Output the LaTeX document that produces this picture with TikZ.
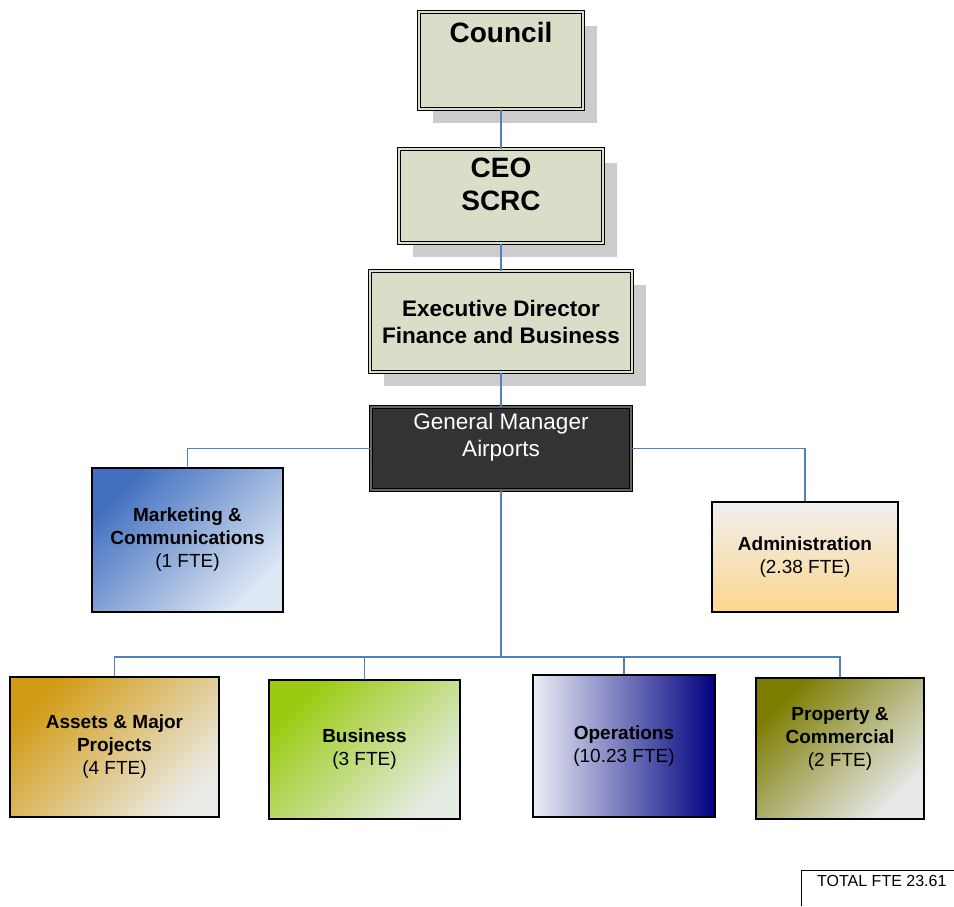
\documentclass[tikz,border=0pt]{standalone}
\usepackage{fontspec}
\setmainfont{Liberation Sans}
\usepackage{tikz}
\usetikzlibrary{shadows}
\definecolor{sage}{RGB}{217,222,201}
\definecolor{shadowGray}{RGB}{204,204,204}
\definecolor{gmGray}{RGB}{51,51,51}
\definecolor{linkBlue}{RGB}{79,129,189}
\definecolor{mcDark}{RGB}{66,112,192}
\definecolor{mcLight}{RGB}{222,232,244}
\definecolor{admTop}{RGB}{240,240,240}
\definecolor{admBottom}{RGB}{252,214,142}
\definecolor{ampDark}{RGB}{210,155,20}
\definecolor{ampLight}{RGB}{234,234,230}
\definecolor{busDark}{RGB}{155,202,16}
\definecolor{busLight}{RGB}{228,236,228}
\definecolor{opsLeft}{RGB}{234,238,246}
\definecolor{opsRight}{RGB}{0,0,128}
\definecolor{pcDark}{RGB}{124,124,0}
\definecolor{pcLight}{RGB}{232,234,234}
\tikzstyle{headBox} = [
                rectangle,
                draw=black,
                line width=1pt,
                double=sage,
                double distance=1.8pt,
                fill=sage,
                align=center,
                inner sep=2pt,
                drop shadow={shadow xshift=14pt, shadow yshift=-14pt, fill=shadowGray, opacity=1}
            ]
\tikzstyle{gmBox} = [
                rectangle,
                draw=black,
                line width=1pt,
                double=black!60,
                double distance=1.8pt,
                fill=gmGray,
                text=white,
                align=center,
                inner sep=2pt,
                font=\fontsize{22.5}{27}\selectfont
            ]
\tikzstyle{unitBox} = [
                rectangle,
                draw=black,
                line width=1.6pt,
                align=center,
                inner sep=2pt,
                font=\fontsize{19}{23}\selectfont\bfseries
            ]
\tikzstyle{link} = [draw=linkBlue, line width=1.1pt]

\begin{document}
\begin{tikzpicture}[x=1pt, y=-1pt]
\useasboundingbox (0,0) rectangle (954,906);
\node (council) [headBox, minimum width=164pt, minimum height=97pt, font=\fontsize{28}{28.5}\selectfont\bfseries] at (501,60.5) {Council\\~\\~};
\node (ceo) [headBox, minimum width=204pt, minimum height=94pt, font=\fontsize{28}{33.6}\selectfont\bfseries] at (501,196) {CEO\\SCRC\\[-10pt]~};
\node (ed) [headBox, minimum width=262pt, minimum height=101pt, font=\fontsize{22.5}{27}\selectfont\bfseries] at (501,321.5) {Executive Director\\Finance and Business};
\node (gm) [gmBox, minimum width=260pt, minimum height=83pt] at (501,448.5) {General Manager\\Airports\\~};
\node (mc) [unitBox, minimum width=191pt, minimum height=144pt, top color=mcDark, middle color=mcDark!85!mcLight, bottom color=mcLight, shading angle=45] at (187.5,540) {Marketing \&\\Communications\\\mdseries(1 FTE)};
\node (adm) [unitBox, minimum width=186pt, minimum height=110pt, top color=admTop, bottom color=admBottom] at (805,557) {Administration\\\mdseries(2.38 FTE)};
\node (amp) [unitBox, minimum width=209pt, minimum height=140pt, top color=ampDark, middle color=ampDark!70!ampLight, bottom color=ampLight, shading angle=45] at (114.5,747) {Assets \& Major\\Projects\\\mdseries(4 FTE)};
\node (bus) [unitBox, minimum width=191pt, minimum height=139pt, top color=busDark, middle color=busDark!65!busLight, bottom color=busLight, shading angle=45] at (364.5,749.5) {Business\\\mdseries(3 FTE)};
\node (ops) [unitBox, minimum width=182pt, minimum height=142pt, left color=opsLeft, right color=opsRight] at (624,746) {Operations\\\mdseries(10.23 FTE)};
\node (pc) [unitBox, minimum width=168pt, minimum height=141pt, top color=pcDark, middle color=pcDark!70!pcLight, bottom color=pcLight, shading angle=45] at (840,748.5) {Property \&\\Commercial\\\mdseries(2 FTE)\\~};
\coordinate (hub) at (501,657);
\draw [link] (council) -- (ceo);
\draw [link] (ceo) -- (ed);
\draw [link] (ed) -- (gm);
\draw [link] (gm.west) -| (mc.north);
\draw [link] (gm.east) -| (adm.north);
\draw [link] (gm) -- (hub);
\draw [link] (hub) -| (amp.north);
\draw [link] (hub) -| (bus.north);
\draw [link] (hub) -| (ops.north);
\draw [link] (hub) -| (pc.north);
\node (total) [anchor=west, inner sep=0pt, font=\fontsize{16}{19}\selectfont] at (817,881) {TOTAL FTE 23.61};
\coordinate (totalCorner) at (801,870);
\draw [line width=0.8pt] (801,906) -- (totalCorner) -- (954,870);
\end{tikzpicture}
\end{document}
